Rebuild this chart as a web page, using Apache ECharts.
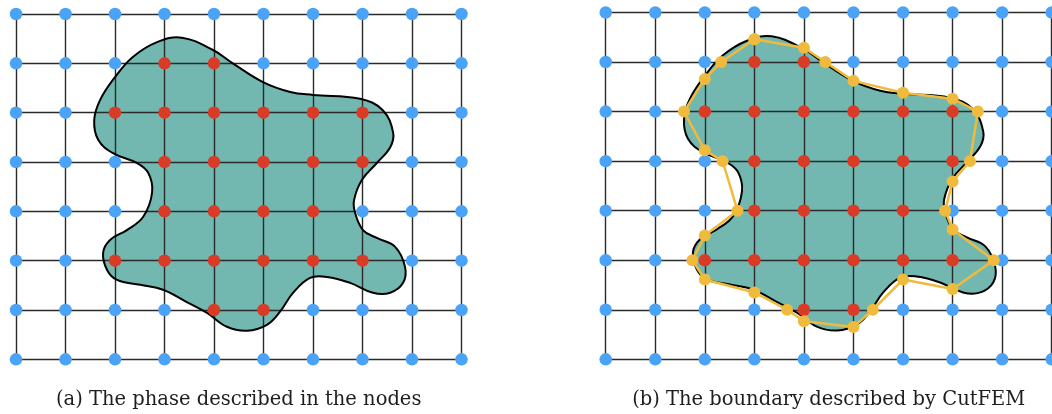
<!DOCTYPE html>
<html>
<head>
<meta charset="utf-8">
<script src="https://cdn.jsdelivr.net/npm/echarts@6/dist/echarts.min.js"></script>
<style>
  html, body { margin: 0; padding: 0; background: #ffffff; }
  #chart { width: 1052px; height: 414px; }
</style>
</head>
<body>
<div id="chart"></div>
<script>
// Mesh node indices (columns left to right, rows top to bottom)
const meshCols = [0, 1, 2, 3, 4, 5, 6, 7, 8, 9];
const meshRows = [0, 1, 2, 3, 4, 5, 6, 7];

// Nodes lying inside the phase, [column, row]
const phaseNodes = [
  [3, 1], [4, 1],
  [2, 2], [3, 2], [4, 2], [5, 2], [6, 2], [7, 2],
  [3, 3], [4, 3], [5, 3], [6, 3], [7, 3],
  [3, 4], [4, 4], [5, 4], [6, 4],
  [2, 5], [3, 5], [4, 5], [5, 5], [6, 5], [7, 5],
  [4, 6], [5, 6]
];

// Outline of the phase in mesh units, traced clockwise
const phaseBoundary = [
  [3.35, 0.48], [3.98, 0.73], [4.38, 1.00], [4.99, 1.38], [5.54, 1.58],
  [6.00, 1.64], [6.95, 1.72], [7.41, 1.95], [7.62, 2.41], [7.56, 2.70],
  [7.29, 3.02], [6.99, 3.36], [6.83, 3.77], [6.85, 4.03], [7.01, 4.38],
  [7.29, 4.54], [7.66, 4.72], [7.86, 5.13], [7.82, 5.45], [7.56, 5.65],
  [7.21, 5.65], [6.75, 5.45], [6.28, 5.33], [5.94, 5.35], [5.60, 5.65],
  [5.33, 6.04], [5.07, 6.30], [4.67, 6.42], [4.26, 6.34], [3.86, 6.06],
  [3.45, 5.84], [2.97, 5.59], [2.51, 5.49], [2.04, 5.39], [1.84, 5.19],
  [1.76, 4.84], [1.90, 4.58], [2.24, 4.38], [2.57, 4.11], [2.75, 3.61],
  [2.67, 3.22], [2.44, 3.02], [1.96, 2.82], [1.66, 2.55], [1.58, 2.15],
  [1.70, 1.74], [2.00, 1.28], [2.36, 0.87], [2.85, 0.57]
];

// Intersections of the outline with the mesh lines (CutFEM boundary)
const cutPoints = [
  [3.00, 0.54], [4.00, 0.71], [4.43, 1.00], [5.00, 1.38], [6.00, 1.62],
  [7.00, 1.74], [7.51, 2.00], [7.35, 3.00], [7.00, 3.41], [6.85, 4.00],
  [7.00, 4.38], [7.83, 5.00], [7.00, 5.58], [6.00, 5.39], [5.39, 6.00],
  [5.00, 6.35], [4.00, 6.23], [3.66, 6.00], [3.00, 5.65], [2.00, 5.39],
  [1.75, 5.00], [2.00, 4.50], [2.66, 4.00], [2.36, 3.00], [2.00, 2.78],
  [1.58, 2.00], [2.00, 1.34], [2.33, 1.00]
];

const captions = [
  '(a) The phase described in the nodes',
  '(b) The boundary described by CutFEM'
];

const COLORS = {
  mesh: '#2b2b2b',
  outside: '#4aa3f6',
  inside: '#da3b27',
  phase: '#72b8b0',
  outline: '#000000',
  cut: '#f0bb3d',
  text: '#1e1e1e'
};

// Split the mesh into nodes inside and outside the phase
const insideKey = new Set(phaseNodes.map(n => n[0] + ',' + n[1]));
const outsideNodes = [];
meshRows.forEach(r => meshCols.forEach(c => {
  if (!insideKey.has(c + ',' + r)) outsideNodes.push([c, r]);
}));

const grids = [
  { left: 16, top: 14, width: 445.5, height: 345.3 },
  { left: 605.7, top: 12.5, width: 446, height: 346.8 }
];

function axisCommon(maxVal) {
  return {
    type: 'value', min: 0, max: maxVal, interval: 1,
    axisLine: { show: false }, axisTick: { show: false }, axisLabel: { show: false },
    splitLine: { show: true, lineStyle: { color: COLORS.mesh, width: 1.4 } }
  };
}

function blobRenderer(fill, stroke, lineWidth) {
  return function (params, api) {
    if (params.dataIndex !== 0) return null;
    const pts = phaseBoundary.map(p => api.coord(p));
    return {
      type: 'polygon',
      shape: { points: pts, smooth: 0.4 },
      style: { fill: fill, stroke: stroke, lineWidth: lineWidth }
    };
  };
}

const xAxes = [], yAxes = [], series = [];
grids.forEach((g, i) => {
  xAxes.push(Object.assign({ gridIndex: i }, axisCommon(meshCols[meshCols.length - 1])));
  yAxes.push(Object.assign({ gridIndex: i, inverse: true }, axisCommon(meshRows[meshRows.length - 1])));

  series.push({
    type: 'custom', xAxisIndex: i, yAxisIndex: i, z: -1, silent: true,
    data: phaseBoundary, renderItem: blobRenderer(COLORS.phase, 'none', 0)
  });
  series.push({
    type: 'custom', xAxisIndex: i, yAxisIndex: i, z: 3, silent: true,
    data: phaseBoundary, renderItem: blobRenderer('none', COLORS.outline, 2)
  });
  series.push({
    type: 'scatter', xAxisIndex: i, yAxisIndex: i, z: 4, clip: false,
    symbolSize: 12.5, itemStyle: { color: COLORS.outside, opacity: 1 },
    data: outsideNodes
  });
  series.push({
    type: 'scatter', xAxisIndex: i, yAxisIndex: i, z: 4, clip: false,
    symbolSize: 12.5, itemStyle: { color: COLORS.inside, opacity: 1 },
    data: phaseNodes
  });
});

// CutFEM boundary polygon on the right panel
series.push({
  type: 'line', xAxisIndex: 1, yAxisIndex: 1, z: 5, clip: false,
  data: cutPoints.concat([cutPoints[0]]),
  smooth: false, symbol: 'circle', symbolSize: 12, showSymbol: true,
  lineStyle: { color: COLORS.cut, width: 2.5 },
  itemStyle: { color: COLORS.cut, opacity: 1 }
});

// Captions centred under each panel
const captionFont = '19.5px "DejaVu Serif"';
const chart = echarts.init(document.getElementById('chart'), null, { renderer: 'canvas' });
chart.setOption({
  animation: false,
  backgroundColor: '#ffffff',
  grid: grids,
  xAxis: xAxes,
  yAxis: yAxes,
  series: series,
  graphic: [
    { type: 'text', x: 238.7, y: 400, silent: true,
      style: { text: captions[0], font: captionFont, fill: COLORS.text, align: 'center', verticalAlign: 'middle' } },
    { type: 'text', x: 828.7, y: 400, silent: true,
      style: { text: captions[1], font: captionFont, fill: COLORS.text, align: 'center', verticalAlign: 'middle' } }
  ]
});
</script>
</body>
</html>
